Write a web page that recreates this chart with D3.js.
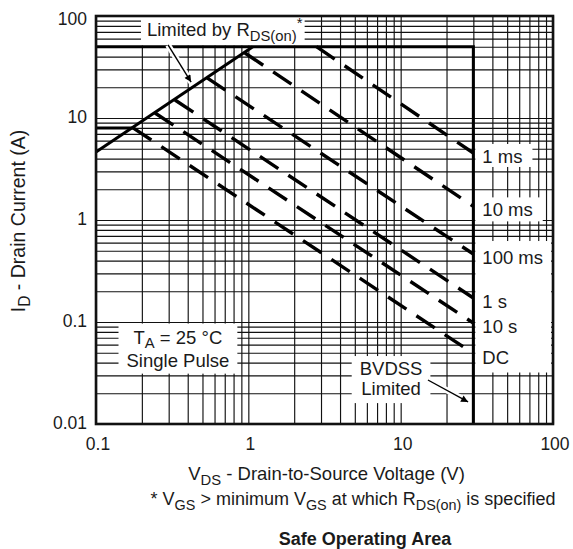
<!DOCTYPE html>
<html>
<head>
<meta charset="utf-8">
<script src="https://cdn.jsdelivr.net/npm/d3@7"></script>
<style>
body { margin: 0; background: #fff; }
text { font-family: "Liberation Sans", Arial, Helvetica, sans-serif; fill: #1a1a1a; }
</style>
</head>
<body>
<svg id="chart" width="573" height="549"></svg>
<script>
// axis decades
var xTicks = [0.1, 1, 10, 100];
var yTicks = [0.01, 0.1, 1, 10, 100];

// pulse curves (V, A)
var pulseLabels = ["1 ms", "10 ms", "100 ms", "1 s", "10 s", "DC"];
var pulseStartV = [2.8, 0.95, 0.536, 0.33, 0.244, 0.175];
var pulseStartI = [50, 43.4, 24.7, 15.0, 11.2, 8.0];
var pulseEndV = [30, 30, 30, 30, 30, 30];
var pulseEndI = [4.54, 1.36, 0.464, 0.172, 0.0977, 0.0491];

// limit lines
var rdsV = [0.1, 1.07];
var rdsI = [4.65, 50];
var limitV = [0.1, 30, 30];
var limitI = [50, 50, 0.01];
var dcLimitV = [0.1, 0.175];
var dcLimitI = [8, 8];

var W = 573, H = 549;
var margin = { top: 16, right: 20, bottom: 125, left: 96 };

var svg = d3.select("#chart");

var x = d3.scaleLog().domain([0.1, 100]).range([margin.left, W - margin.right]);
var y = d3.scaleLog().domain([0.01, 100]).range([H - margin.bottom, margin.top]);

var plotW = x.range()[1] - x.range()[0];
var plotH = y.range()[0] - y.range()[1];

// subscripts / superscripts inside a text element
function rich(t, parts) {
    var shift = 0;
    parts.forEach(function (p) {
        var target = p[1] === "sub" ? 4.5 : p[1] === "sup" ? -8 : 0;
        t.append("tspan")
            .attr("dy", target - shift)
            .attr("font-size", p[1] ? "0.8em" : null)
            .text(p[0]);
        shift = target;
    });
    return t;
}

// grid (all 1..9 per decade)
var grid = svg.append("g").attr("class", "grid");
grid.append("g")
    .attr("transform", "translate(0," + y.range()[0] + ")")
    .call(d3.axisBottom(x).tickValues(x.ticks()).tickSize(-plotH).tickFormat(""))
    .call(function (g) { g.select(".domain").remove(); });
grid.append("g")
    .attr("transform", "translate(" + x.range()[0] + ",0)")
    .call(d3.axisLeft(y).tickValues(y.ticks()).tickSize(-plotW).tickFormat(""))
    .call(function (g) { g.select(".domain").remove(); });
grid.selectAll("line").attr("stroke", "#111").attr("stroke-width", 1.15);

var boxes = svg.append("g");   // white label backgrounds, drawn over the grid
var marks = svg.append("g");
var labels = svg.append("g");

function box(bb, l, r, t, b) {
    boxes.append("rect")
        .attr("x", bb.x - l).attr("y", bb.y - t)
        .attr("width", bb.width + l + r).attr("height", bb.height + t + b)
        .attr("fill", "#fff");
}
function union(a, b) {
    var x0 = Math.min(a.x, b.x), y0 = Math.min(a.y, b.y);
    var x1 = Math.max(a.x + a.width, b.x + b.width), y1 = Math.max(a.y + a.height, b.y + b.height);
    return { x: x0, y: y0, width: x1 - x0, height: y1 - y0 };
}

var line = d3.line().x(function (d) { return x(d[0]); }).y(function (d) { return y(d[1]); });

// solid limits
marks.append("path").datum(d3.zip(limitV, limitI)).attr("d", line)
    .attr("fill", "none").attr("stroke", "#000").attr("stroke-width", 3);
marks.append("path").datum(d3.zip(rdsV, rdsI)).attr("d", line)
    .attr("fill", "none").attr("stroke", "#000").attr("stroke-width", 3);
marks.append("path").datum(d3.zip(dcLimitV, dcLimitI)).attr("d", line)
    .attr("fill", "none").attr("stroke", "#000").attr("stroke-width", 3);

// pulse curves
pulseLabels.forEach(function (name, i) {
    marks.append("path")
        .datum([[pulseStartV[i], pulseStartI[i]], [pulseEndV[i], pulseEndI[i]]])
        .attr("d", line)
        .attr("fill", "none").attr("stroke", "#000")
        .attr("stroke-width", 3.4).attr("stroke-dasharray", "22,12");
});

// right-hand labels
var fs = 18.5;
var rightBoxes = [];
pulseLabels.forEach(function (name, i) {
    var t = labels.append("text")
        .attr("x", x(pulseEndV[i]) + 9)
        .attr("y", y(pulseEndI[i]) + 10)
        .attr("font-size", fs)
        .text(name);
    rightBoxes.push(t.node().getBBox());
});
var edgeL = x(30) + 2;
function rightBox(bb, pt, pb, toEdge) {
    var r = toEdge ? x.range()[1] - 2 : bb.x + bb.width + 10;
    boxes.append("rect").attr("x", edgeL).attr("y", bb.y - pt)
        .attr("width", r - edgeL).attr("height", bb.height + pt + pb).attr("fill", "#fff");
}
rightBox(rightBoxes[0], 2, 0, false);
rightBox(rightBoxes[1], 2, 1, false);
rightBox(rightBoxes.slice(2).reduce(union), 6, 5, true);

// "Limited by RDS(on)*"
var lim = rich(labels.append("text").attr("x", x(0.216)).attr("y", y(63.6)).attr("font-size", fs),
    [["Limited by R"], ["DS(on)", "sub"], ["*", "sup"]]);
var lb = lim.node().getBBox();
boxes.append("rect").attr("x", lb.x - 6).attr("y", y.range()[1])
    .attr("width", lb.width + 8).attr("height", lb.y + lb.height + 2 - y.range()[1]).attr("fill", "#fff");

// TA box
var ta = labels.append("g").attr("text-anchor", "middle").attr("font-size", fs);
rich(ta.append("text").attr("x", x(0.345)).attr("y", y(0.0615)), [["T"], ["A", "sub"], [" = 25 °C"]]);
ta.append("text").attr("x", x(0.345)).attr("y", y(0.0365)).text("Single Pulse");
box(ta.node().getBBox(), 8, 8, 3, 3);

// BVDSS box
var bv = labels.append("g").attr("text-anchor", "middle").attr("font-size", fs);
bv.append("text").attr("x", x(8.65)).attr("y", y(0.0302)).text("BVDSS");
bv.append("text").attr("x", x(8.65)).attr("y", y(0.0192)).text("Limited");
box(bv.node().getBBox(), 8, 8, 2, 4);

// arrows
svg.append("defs").append("marker")
    .attr("id", "head").attr("viewBox", "0 -5 10 10")
    .attr("refX", 10).attr("refY", 0)
    .attr("markerWidth", 11).attr("markerHeight", 7)
    .attr("markerUnits", "userSpaceOnUse")
    .attr("orient", "auto")
  .append("path").attr("d", "M0,-5L10,0L0,5Z").attr("fill", "#000");

function arrow(v0, i0, v1, i1) {
    var pts = [[v0, i0], [v1, i1]];
    labels.append("path").datum(pts).attr("d", line)
        .attr("stroke", "#fff").attr("stroke-width", 6).attr("fill", "none");
    labels.append("path").datum(pts).attr("d", line)
        .attr("stroke", "#000").attr("stroke-width", 1.4).attr("fill", "none")
        .attr("marker-end", "url(#head)");
}
arrow(0.297, 52, 0.421, 22.5);
arrow(15.1, 0.027, 27.7, 0.01644);

// frame
svg.append("rect")
    .attr("x", x.range()[0]).attr("y", y.range()[1])
    .attr("width", plotW).attr("height", plotH)
    .attr("fill", "none").attr("stroke", "#111").attr("stroke-width", 2.6);

// decade labels
var tfs = 17.5;
var ax = svg.append("g").attr("font-size", tfs);
ax.selectAll(".xl").data(xTicks).enter().append("text")
    .attr("x", function (d) { return x(d) + 2; })
    .attr("y", y.range()[0] + 26)
    .attr("text-anchor", "middle")
    .text(function (d) { return d3.format("~g")(d); });
ax.selectAll(".yl").data(yTicks).enter().append("text")
    .attr("x", x.range()[0] - 9)
    .attr("y", function (d) { return Math.max(y(d) - 1.5, 19) + 6.3; })
    .attr("text-anchor", "end")
    .text(function (d) { return d3.format("~g")(d); });

// axis titles
rich(svg.append("text")
    .attr("transform", "translate(25," + (y.range()[1] + plotH / 2 + 1) + ") rotate(-90)")
    .attr("text-anchor", "middle").attr("font-size", 19.5),
    [["I"], ["D", "sub"], [" - Drain Current (A)"]]);

var cx = (x.range()[0] + x.range()[1]) / 2;
rich(svg.append("text").attr("x", cx + 2).attr("y", 480).attr("text-anchor", "middle").attr("font-size", 18.5),
    [["V"], ["DS", "sub"], [" - Drain-to-Source Voltage (V)"]]);
rich(svg.append("text").attr("x", 353).attr("y", 505).attr("text-anchor", "middle").attr("font-size", 18),
    [["* V"], ["GS", "sub"], [" > minimum V"], ["GS", "sub"], [" at which R"], ["DS(on)", "sub"], [" is specified"]]);
svg.append("text").attr("x", 365).attr("y", 545).attr("text-anchor", "middle")
    .attr("font-size", 18).attr("font-weight", "bold").text("Safe Operating Area");
</script>
</body>
</html>
